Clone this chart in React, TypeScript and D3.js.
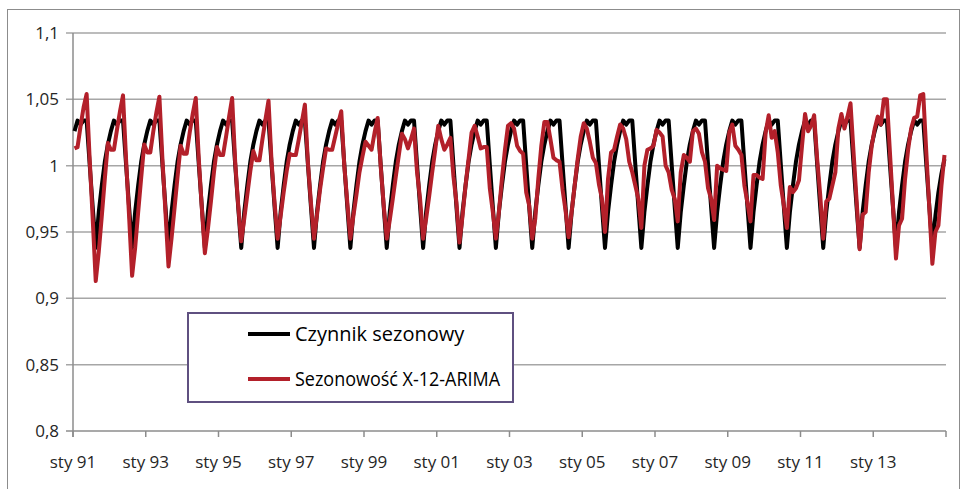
import React from 'react';
import * as d3 from 'd3';

// seasonal factor (Czynnik sezonowy), one row per year, Jan..Dec
const factor1991 = [1.026, 1.034, 1.031, 1.034, 1.034, 1.001, 0.969, 0.938, 0.965, 0.985, 1.003, 1.016];
const factor2014 = [1.026, 1.034, 1.031, 1.034, 1.034, 1.001, 0.969, 0.938, 0.962, 0.980, 0.994, 1.005];
const blackRows = [
  factor1991, factor1991, factor1991, factor1991, factor1991, factor1991,
  factor1991, factor1991, factor1991, factor1991, factor1991, factor1991,
  factor1991, factor1991, factor1991, factor1991, factor1991, factor1991,
  factor1991, factor1991, factor1991, factor1991, factor1991, factor2014,
];

// X-12-ARIMA seasonality, one row per year 1991..2014, Jan..Dec
const redRows = [
  [1.013, 1.014, 1.030, 1.044, 1.054, 1.005, 0.960, 0.913, 0.935, 0.962, 0.990, 1.017],
  [1.012, 1.012, 1.027, 1.041, 1.053, 1.005, 0.962, 0.917, 0.938, 0.965, 0.991, 1.016],
  [1.010, 1.010, 1.026, 1.040, 1.052, 1.005, 0.965, 0.924, 0.945, 0.968, 0.992, 1.015],
  [1.009, 1.009, 1.025, 1.039, 1.051, 1.005, 0.968, 0.934, 0.952, 0.973, 0.995, 1.014],
  [1.008, 1.008, 1.022, 1.037, 1.051, 1.003, 0.970, 0.943, 0.960, 0.978, 0.996, 1.011],
  [1.004, 1.004, 1.020, 1.035, 1.049, 1.003, 0.972, 0.945, 0.962, 0.980, 0.996, 1.009],
  [1.008, 1.008, 1.020, 1.033, 1.046, 1.002, 0.972, 0.945, 0.963, 0.982, 0.998, 1.013],
  [1.012, 1.012, 1.022, 1.032, 1.041, 1.000, 0.972, 0.945, 0.962, 0.978, 0.995, 1.007],
  [1.018, 1.015, 1.012, 1.025, 1.036, 1.000, 0.970, 0.945, 0.959, 0.975, 0.992, 1.008],
  [1.024, 1.020, 1.013, 1.020, 1.028, 0.995, 0.975, 0.945, 0.960, 0.977, 0.995, 1.012],
  [1.030, 1.020, 1.012, 1.016, 1.021, 0.992, 0.972, 0.942, 0.962, 0.985, 1.005, 1.025],
  [1.030, 1.022, 1.013, 1.014, 1.014, 0.983, 0.965, 0.945, 0.965, 0.990, 1.012, 1.030],
  [1.032, 1.028, 1.015, 1.011, 1.009, 0.980, 0.970, 0.945, 0.960, 0.990, 1.015, 1.033],
  [1.033, 1.020, 1.006, 1.004, 1.003, 0.982, 0.966, 0.946, 0.965, 0.985, 1.005, 1.022],
  [1.032, 1.028, 1.018, 1.006, 1.002, 0.986, 0.975, 0.950, 0.990, 1.010, 1.012, 1.022],
  [1.031, 1.028, 1.020, 1.003, 0.995, 0.985, 0.975, 0.953, 1.000, 1.012, 1.013, 1.015],
  [1.027, 1.025, 1.022, 1.000, 0.995, 0.982, 0.975, 0.958, 0.995, 1.008, 1.006, 1.003],
  [1.026, 1.028, 1.024, 1.010, 1.003, 0.983, 0.975, 0.959, 1.000, 0.998, 0.997, 0.996],
  [1.025, 1.031, 1.015, 1.012, 1.008, 0.985, 0.972, 0.958, 0.993, 0.993, 0.991, 0.990],
  [1.025, 1.038, 1.021, 1.026, 1.010, 0.985, 0.970, 0.953, 0.984, 0.980, 0.983, 0.989],
  [1.015, 1.039, 1.026, 1.030, 1.038, 1.005, 0.978, 0.945, 0.973, 0.975, 0.985, 0.995],
  [1.028, 1.039, 1.028, 1.037, 1.047, 1.010, 0.974, 0.937, 0.963, 0.965, 0.995, 1.015],
  [1.028, 1.037, 1.031, 1.050, 1.050, 1.010, 0.970, 0.930, 0.955, 0.960, 0.990, 1.012],
  [1.028, 1.036, 1.037, 1.053, 1.054, 1.010, 0.968, 0.926, 0.950, 0.955, 0.985, 1.008],
];

const xTickLabels = ['sty 91', 'sty 93', 'sty 95', 'sty 97', 'sty 99', 'sty 01', 'sty 03', 'sty 05', 'sty 07', 'sty 09', 'sty 11', 'sty 13'];
const yTicks = [0.8, 0.85, 0.9, 0.95, 1, 1.05, 1.1];
const seriesNames = ['Czynnik sezonowy', 'Sezonowość X-12-ARIMA'];
const seriesColors = ['#000000', '#b3202a'];

const W = 966;
const H = 489;
const left = 73;
const right = 946;
const top = 33;
const bottom = 431;

export default function App() {
  const black = blackRows.flat();
  const red = redRows.flat();
  const n = red.length;

  // category axis, points sit in the middle of each month slot
  const x = d3.scaleLinear().domain([0, n]).range([left, right]);
  const y = d3.scaleLinear().domain([0.8, 1.1]).range([bottom, top]);

  const line = d3.line<number>()
    .x((_, i) => x(i + 0.5))
    .y(d => y(d));

  const fmt = (v: number) => String(+v.toFixed(2)).replace('.', ',');
  const tickIdx = d3.range(0, n + 1, 24);
  const font = "'Open Sans', sans-serif";

  return (
    <svg width={W} height={H} style={{ position: 'absolute', left: 0, top: 0, background: '#fff' }}>
      <rect x={7.5} y={9.5} width={952} height={490} fill="#fff" stroke="#8c8c8c" strokeWidth={1} />

      {yTicks.map(t => (
        <g key={t}>
          <line x1={left - 7} x2={right} y1={y(t)} y2={y(t)} stroke={t === 0.8 ? '#8c8c8c' : '#a6a6a6'} strokeWidth={1.5} />
          <text x={left - 14} y={y(t)} dy="0.35em" textAnchor="end" fontFamily={font} fontSize={17} fill="#262626">
            {fmt(t)}
          </text>
        </g>
      ))}

      <line x1={left} x2={left} y1={top} y2={bottom + 6} stroke="#8c8c8c" strokeWidth={1.5} />
      {tickIdx.map((t, k) => (
        <g key={t}>
          <line x1={x(t)} x2={x(t)} y1={bottom} y2={bottom + 6} stroke="#8c8c8c" strokeWidth={1.5} />
          {xTickLabels[k] && (
            <text x={x(t)} y={bottom + 37} textAnchor="middle" fontFamily={font} fontSize={17} fill="#262626">
              {xTickLabels[k]}
            </text>
          )}
        </g>
      ))}

      <path d={line(black) || ''} fill="none" stroke={seriesColors[0]} strokeWidth={4} strokeLinejoin="round" />
      <path d={line(red) || ''} fill="none" stroke={seriesColors[1]} strokeWidth={4} strokeLinejoin="round" />

      <rect x={188} y={313} width={325} height={89} fill="#fff" stroke="#5f5080" strokeWidth={2} />
      {seriesNames.map((s, i) => (
        <g key={s} transform={`translate(248, ${334 + i * 45})`}>
          <line x1={0} x2={42} y1={0} y2={0} stroke={seriesColors[i]} strokeWidth={4} />
          <text x={47} y={0} dy="0.35em" fontFamily={font} fontSize={20} fill="#000"
            textLength={i === 1 ? 205 : undefined} lengthAdjust="spacingAndGlyphs">
            {s}
          </text>
        </g>
      ))}
    </svg>
  );
}
